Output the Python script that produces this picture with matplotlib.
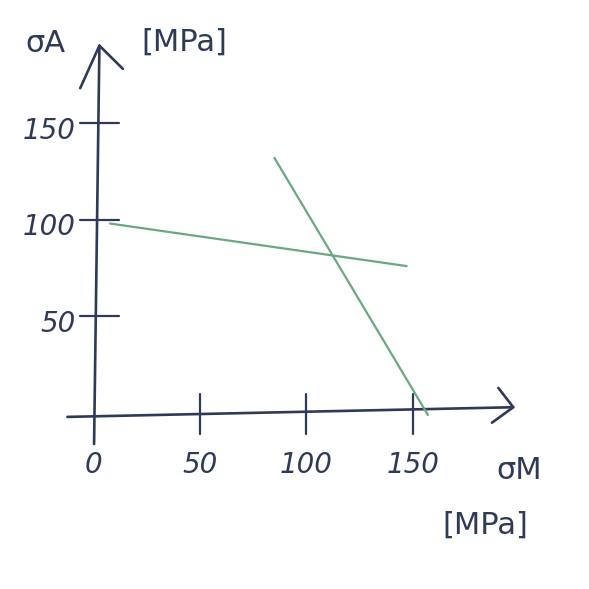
import matplotlib
matplotlib.use("Agg")
import matplotlib.pyplot as plt

# Data
x_ticks = [0, 50, 100, 150]
y_ticks = [50, 100, 150]
x_tick_labels = ["0", "50", "100", "150"]
y_tick_labels = ["50", "100", "150"]
line1_x = [8, 147]
line1_y = [98, 76]
line2_x = [85, 157]
line2_y = [132, -1]
x_label_sym = "σM"
y_label_sym = "σA"
unit = "[MPa]"

ink = "#2e3a56"
green = "#6aa882"

fig = plt.figure(figsize=(5.89, 5.89), dpi=100)
ax = fig.add_axes([0, 0, 1, 1])
ax.set_xlim(-43.6, 232.5)
ax.set_ylim(-91, 213.6)
ax.axis("off")

# axes lines
ax.plot([0.5, 3], [-16, 190], color=ink, lw=1.9, solid_capstyle="round")
ax.plot([-12, 197], [-2, 3], color=ink, lw=1.9, solid_capstyle="round")
# arrowheads
ax.plot([-6, 3, 14], [168, 190, 178], color=ink, lw=1.9, solid_capstyle="round", solid_joinstyle="round")
ax.plot([190, 197, 187], [13, 3, -5], color=ink, lw=1.9, solid_capstyle="round", solid_joinstyle="round")

# ticks
for xt in x_ticks[1:]:
    ax.plot([xt, xt], [10, -11], color=ink, lw=1.6, solid_capstyle="round")
for yt in y_ticks:
    ax.plot([-6, 12], [yt, yt], color=ink, lw=1.6, solid_capstyle="round")

fs = 20
for xt, lab in zip(x_ticks, x_tick_labels):
    ax.text(xt, -27, lab, ha="center", va="center", fontsize=fs, color=ink,
            style="italic", family="DejaVu Sans", fontweight="light")
for yt, lab in zip(y_ticks, y_tick_labels):
    ax.text(-8, yt - 4, lab, ha="right", va="center", fontsize=fs, color=ink,
            style="italic", family="DejaVu Sans", fontweight="light")

ax.text(-22.5, 191, y_label_sym, ha="center", va="center", fontsize=22, color=ink)
ax.text(43, 192, unit, ha="center", va="center", fontsize=22, color=ink)
ax.text(200, -29.5, x_label_sym, ha="center", va="center", fontsize=22, color=ink)
ax.text(184, -58, unit, ha="center", va="center", fontsize=22, color=ink)

# green lines
ax.plot(line1_x, line1_y, color=green, lw=1.6, solid_capstyle="round")
ax.plot(line2_x, line2_y, color=green, lw=1.6, solid_capstyle="round")

fig.savefig("out.png", dpi=100)
